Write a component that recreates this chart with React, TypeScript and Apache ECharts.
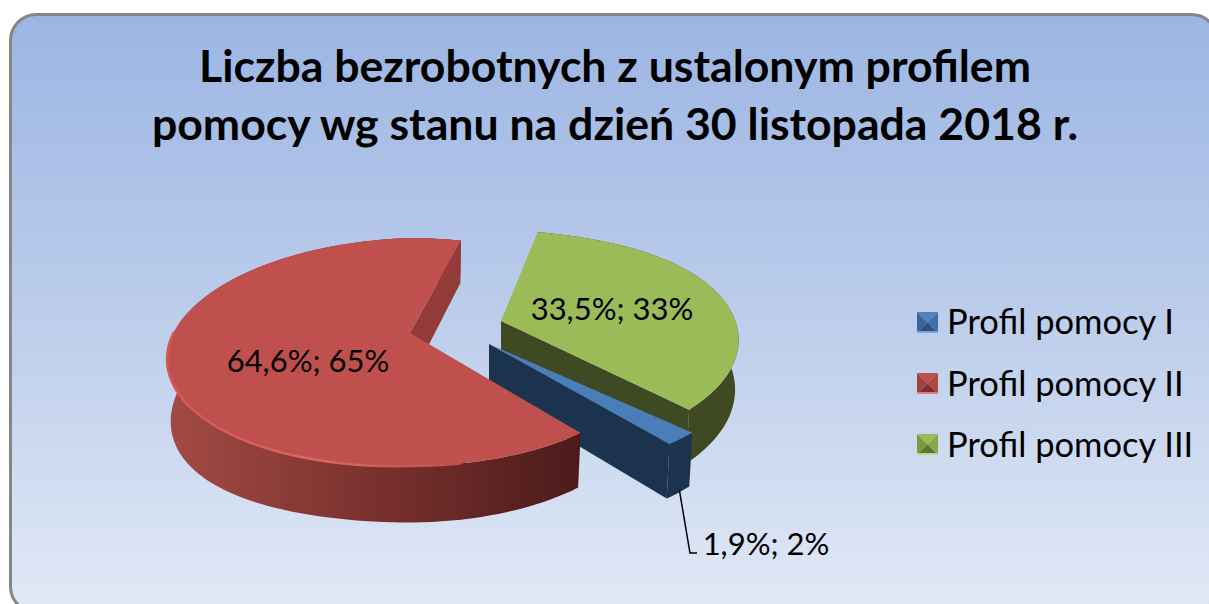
import React, { useEffect, useRef } from "react";
import * as echarts from "echarts";

const TITLE_TEXT = "Liczba bezrobotnych z ustalonym profilem\npomocy wg stanu na dzień 30 listopada 2018 r.";
const categories = ["Profil pomocy I", "Profil pomocy II", "Profil pomocy III"];
const values = [1.9, 64.6, 33.5];
const valueLabels = ["1,9%", "64,6%", "33,5%"];
const shareLabels = ["2%", "65%", "33%"];

const topColors = ["#4a7ebb", "#c0504d", "#9bbb59"];
const wallColors = ["#1c3350", "#923b38", "#404a22"];
const paintOrder = [2, 0, 1];
const apexes = [[489, 344], [410, 333], [501, 321]];
const radiusScales = [1.07, 1.012, 0.99];
const farEdgePull = [0, 0, 1]; // perspective correction of the far rim, per slice
const leftSag = [0, 1, 0]; // the left of the large slice hangs a little lower
const labelAnchors = [[766, 543], [308, 360], [612, 308]];
const START_DEG = 75.7;
const A = 236.7, B = 110.8, K = 1 / 6;
const FONT = "Lato, Carlito, Calibri, sans-serif";

function sliceAngles(i: number) {
  const seq = [2, 0, 1];
  let a = START_DEG;
  for (const s of seq) {
    const span = (values[s] / values.reduce((p, c) => p + c, 0)) * 360;
    if (s === i) return [a, a - span];
    a -= span;
  }
  return [a, a];
}

function project(i: number, deg: number, bottom: boolean) {
  const t = (deg * Math.PI) / 180;
  const x = Math.cos(t), y = Math.sin(t);
  const den = 1 + K * y;
  let X = (A * radiusScales[i] * x) / den;
  let Y = (B * y) / den;
  if (farEdgePull[i] && Y > 0) {
    const f = Math.pow(Y / 92, 4);
    X -= 13 * f;
    Y -= 3.5 * f;
  }
  const [ax, ay] = apexes[i];
  const left = leftSag[i] && X < 0 ? -X : 0;
  if (!bottom) return [ax + X, ay - Y + 0.03 * left];
  return [ax + 0.985 * X, ay - Y + 48.5 - 0.06 * Y + 19 * Math.pow(left / 237, 2)];
}

function rim(i: number, from: number, to: number, bottom: boolean) {
  const n = Math.max(4, Math.ceil(Math.abs(from - to) / 2));
  const pts: number[][] = [];
  for (let k = 0; k <= n; k++) pts.push(project(i, from + ((to - from) * k) / n, bottom));
  return pts;
}

function makeRender(i: number) {
  return (_p: any, api: any) => {
    api.value(0);
    const [a0, a1] = sliceAngles(i);
    const [ax, ay] = apexes[i];
    const children: any[] = [];
    const outerTop = rim(i, a0, a1, false);
    const outerBottom = rim(i, a1, a0, true);
    const apexBottom = [ax, ay + 48.5];
    const wallFill =
      i === 1
        ? { type: "linear", x: 0, y: 0, x2: 1, y2: 0, colorStops: [
            { offset: 0, color: "#a34a44" },
            { offset: 0.45, color: "#7e3330" },
            { offset: 1, color: "#4b1b1a" },
          ] }
        : wallColors[i];
    children.push({
      type: "polygon",
      shape: { points: [...outerTop, ...outerBottom] },
      style: { fill: wallFill },
    });
    children.push({
      type: "polygon",
      shape: { points: [[ax, ay], project(i, a1, false), project(i, a1, true), apexBottom] },
      style: { fill: wallColors[i] },
    });
    children.push({
      type: "polygon",
      shape: { points: [[ax, ay], ...outerTop] },
      style: { fill: topColors[i] },
    });
    if (i === 1) {
      children.push({
        type: "polyline",
        shape: { points: rim(i, a0 - 28, a1 + 100, false) },
        style: {
          fill: "none",
          lineWidth: 2.5,
          stroke: { type: "linear", x: 0, y: 0, x2: 1, y2: 0, colorStops: [
            { offset: 0, color: "#cf5a55" },
            { offset: 0.5, color: "#dd6660" },
            { offset: 1, color: "#c0504d" },
          ] },
        },
      });
    }
    if (i === 0) {
      const foot = project(i, (a0 + a1) / 2, true);
      children.push({
        type: "polyline",
        shape: { points: [[foot[0] + 1, foot[1] - 2], [690, 553], [697, 553]] },
        style: { fill: "none", stroke: "#000", lineWidth: 1.5 },
      });
    }
    children.push({
      type: "text",
      style: {
        text: `${valueLabels[i]}; ${shareLabels[i]}`,
        x: labelAnchors[i][0],
        y: labelAnchors[i][1],
        align: "center",
        verticalAlign: "middle",
        fill: "#000",
        font: `400 31px ${FONT}`,
      },
    });
    return { type: "group", children };
  };
}

const bevelShades = [
  ["#4f81bd", "#3a659b", "#3f6ea8", "#2f5078", "#7aa3d6"],
  ["#c0504d", "#a33f3c", "#b04744", "#7c2f2d", "#dd7c78"],
  ["#9bbb59", "#7c9a42", "#88a64c", "#5d7330", "#bcd67e"],
];
const legendIconTops = [312, 373, 434];

function bevel(i: number) {
  const x0 = 917, y0 = legendIconTops[i], s = 21, c = 10.5;
  const sh = bevelShades[i];
  const mk = (pts: number[][], fill: string) => ({
    type: "polygon",
    z: 100,
    silent: true,
    shape: { points: pts.map(([x, y]) => [x0 + x, y0 + y]) },
    style: { fill },
  });
  return [
    mk([[0, 0], [s, 0], [c, c]], sh[0]),
    mk([[0, 0], [c, c], [0, s]], sh[1]),
    mk([[s, 0], [c, c], [s, s]], sh[2]),
    mk([[0, s], [c, c], [s, s]], sh[3]),
    mk([[0, s - 2], [s, s - 2], [s, s], [0, s]], sh[4]),
  ];
}

export default function App() {
  const ref = useRef<HTMLDivElement>(null);
  useEffect(() => {
    const chart = echarts.init(ref.current!, null, { renderer: "svg" });
    chart.setOption({
      animation: false,
      backgroundColor: "#ffffff",
      title: {
        text: TITLE_TEXT,
        left: 610,
        top: 31,
        textAlign: "center",
        textStyle: { fontFamily: FONT, fontWeight: 700, fontSize: 44.6, lineHeight: 57.5, color: "#000" },
      },
      legend: {
        orient: "vertical",
        left: 917,
        top: 294,
        itemWidth: 21,
        itemHeight: 21,
        itemGap: 18.5,
        itemStyle: { opacity: 0 },
        selectedMode: false,
        icon: "rect",
        data: categories,
        textStyle: { fontFamily: FONT, fontSize: 34.5, lineHeight: 43, color: "#000", padding: [0, 0, 0, -1] },
      },
      graphic: {
        elements: [
          {
            type: "rect",
            z: -10,
            silent: true,
            shape: { x: 10.5, y: 14.5, width: 1207, height: 598, r: 26 },
            style: {
              stroke: "#868686",
              lineWidth: 3,
              fill: { type: "linear", x: 0, y: 0, x2: 0, y2: 1, colorStops: [
                { offset: 0, color: "#9bb5e3" },
                { offset: 0.5, color: "#bccdeb" },
                { offset: 1, color: "#e1e9f6" },
              ] },
            },
          },
          ...bevel(0), ...bevel(1), ...bevel(2),
        ],
      },
      series: categories.map((name, i) => ({
        type: "custom",
        name,
        coordinateSystem: "none",
        silent: true,
        z: 2 + paintOrder.indexOf(i),
        itemStyle: { color: topColors[i] },
        data: [[values[i]]],
        renderItem: makeRender(i),
      })),
    });
    return () => chart.dispose();
  }, []);
  return <div ref={ref} style={{ position: "absolute", left: 0, top: 0, width: 1209, height: 604 }} />;
}
